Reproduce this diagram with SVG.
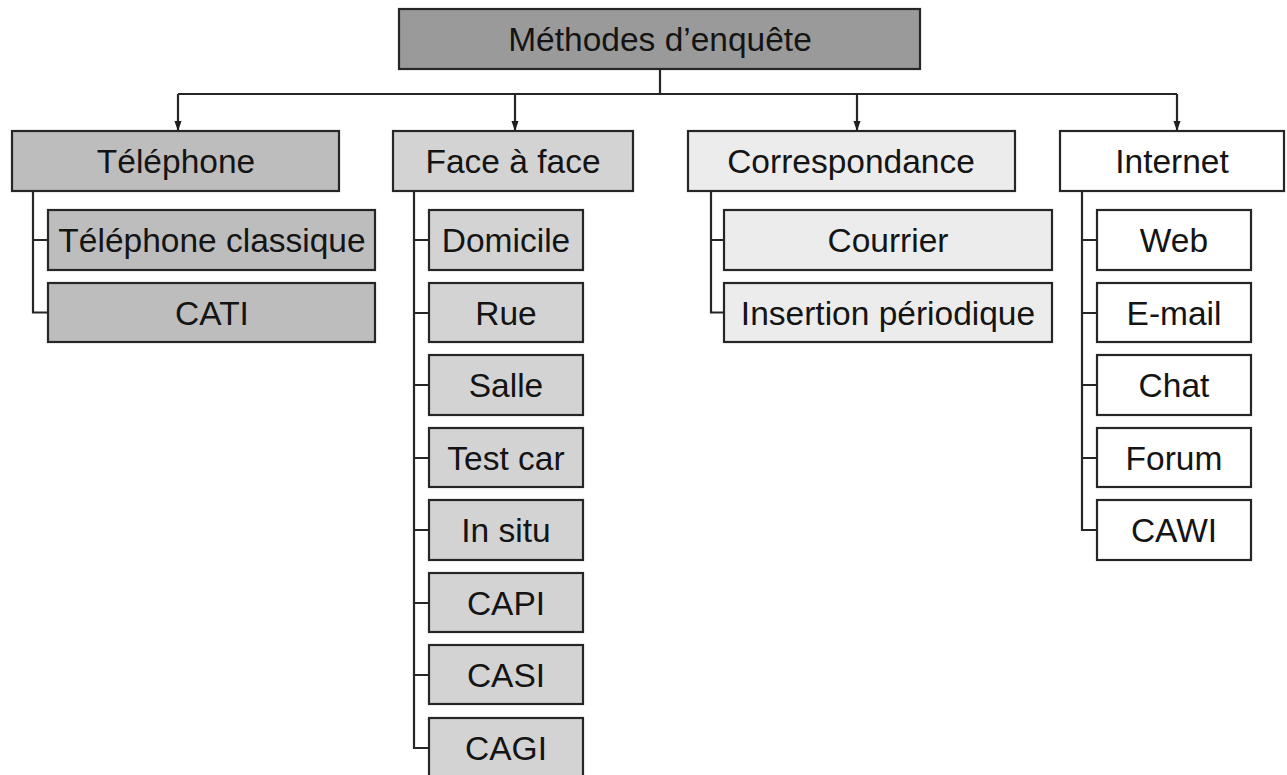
<svg xmlns="http://www.w3.org/2000/svg" width="1287" height="775" viewBox="0 0 1287 775">
  <style>
    .box rect { stroke: #262626; stroke-width: 2.2; }
    text { font-family: "Liberation Sans", Arial, sans-serif; font-size: 33.5px; fill: #141414; text-anchor: middle; }
    .root rect { fill: #9a9a9a; }
    .tel rect { fill: #bdbdbd; }
    .ff rect { fill: #d3d3d3; }
    .corr rect { fill: #ececec; }
    .web rect { fill: #ffffff; }
    #connectors path { fill: none; stroke: #262626; stroke-width: 2.2; }
  </style>
  <defs>
    <marker id="head" markerWidth="10" markerHeight="14" refX="14" refY="5" orient="auto" markerUnits="userSpaceOnUse" viewBox="0 0 14 10">
      <path d="M0,0 L14,5 L0,10 Z" fill="#1e1e1e"/>
    </marker>
  </defs>
  <rect width="1287" height="775" fill="#ffffff"/>

  <!-- connectors -->
  <g id="connectors">
    <path d="M660,69 V94"/>
    <path d="M178,94 H1177"/>
    <path d="M178,94 V131" marker-end="url(#head)"/>
    <path d="M515,94 V131" marker-end="url(#head)"/>
    <path d="M857,94 V131" marker-end="url(#head)"/>
    <path d="M1177,94 V131" marker-end="url(#head)"/>
    <!-- Téléphone branch -->
    <path d="M33,191 V312.5 H48 M33,240 H48"/>
    <!-- Face à face branch -->
    <path d="M414,191 V748 H429 M414,240 H429 M414,313 H429 M414,385 H429 M414,458 H429 M414,530 H429 M414,603 H429 M414,675 H429"/>
    <!-- Correspondance branch -->
    <path d="M711,191 V312.5 H724 M711,240 H724"/>
    <!-- Internet branch -->
    <path d="M1082,191 V530 H1097 M1082,240 H1097 M1082,313 H1097 M1082,385 H1097 M1082,458 H1097"/>
  </g>

  <g id="root" class="box root">
    <rect x="399" y="9" width="521" height="60"/>
    <text x="660" y="51">Méthodes d’enquête</text>
  </g>

  <g id="telephone" class="box tel">
    <rect x="12" y="131" width="327" height="60"/>
    <text x="176" y="173">Téléphone</text>
  </g>
  <g id="telephone-classique" class="box tel">
    <rect x="48" y="210" width="327" height="60"/>
    <text x="212" y="252">Téléphone classique</text>
  </g>
  <g id="cati" class="box tel">
    <rect x="48" y="283" width="327" height="59"/>
    <text x="212" y="325">CATI</text>
  </g>

  <g id="face-a-face" class="box ff">
    <rect x="393" y="131" width="240" height="60"/>
    <text x="513" y="173">Face à face</text>
  </g>
  <g id="domicile" class="box ff">
    <rect x="429" y="210" width="154" height="60"/>
    <text x="506" y="252">Domicile</text>
  </g>
  <g id="rue" class="box ff">
    <rect x="429" y="283" width="154" height="59"/>
    <text x="506" y="325">Rue</text>
  </g>
  <g id="salle" class="box ff">
    <rect x="429" y="355" width="154" height="60"/>
    <text x="506" y="397">Salle</text>
  </g>
  <g id="test-car" class="box ff">
    <rect x="429" y="428" width="154" height="59"/>
    <text x="506" y="470">Test car</text>
  </g>
  <g id="in-situ" class="box ff">
    <rect x="429" y="500" width="154" height="60"/>
    <text x="506" y="542">In situ</text>
  </g>
  <g id="capi" class="box ff">
    <rect x="429" y="573" width="154" height="59"/>
    <text x="506" y="615">CAPI</text>
  </g>
  <g id="casi" class="box ff">
    <rect x="429" y="645" width="154" height="59"/>
    <text x="506" y="687">CASI</text>
  </g>
  <g id="cagi" class="box ff">
    <rect x="429" y="718" width="154" height="60"/>
    <text x="506" y="760">CAGI</text>
  </g>

  <g id="correspondance" class="box corr">
    <rect x="688" y="131" width="327" height="60"/>
    <text x="851" y="173">Correspondance</text>
  </g>
  <g id="courrier" class="box corr">
    <rect x="724" y="210" width="328" height="60"/>
    <text x="888" y="252">Courrier</text>
  </g>
  <g id="insertion-periodique" class="box corr">
    <rect x="724" y="283" width="328" height="59"/>
    <text x="888" y="325">Insertion périodique</text>
  </g>

  <g id="internet" class="box web">
    <rect x="1060" y="131" width="224" height="60"/>
    <text x="1172" y="173">Internet</text>
  </g>
  <g id="web" class="box web">
    <rect x="1097" y="210" width="154" height="60"/>
    <text x="1174" y="252">Web</text>
  </g>
  <g id="e-mail" class="box web">
    <rect x="1097" y="283" width="154" height="59"/>
    <text x="1174" y="325">E-mail</text>
  </g>
  <g id="chat" class="box web">
    <rect x="1097" y="355" width="154" height="60"/>
    <text x="1174" y="397">Chat</text>
  </g>
  <g id="forum" class="box web">
    <rect x="1097" y="428" width="154" height="59"/>
    <text x="1174" y="470">Forum</text>
  </g>
  <g id="cawi" class="box web">
    <rect x="1097" y="500" width="154" height="60"/>
    <text x="1174" y="542">CAWI</text>
  </g>
</svg>
